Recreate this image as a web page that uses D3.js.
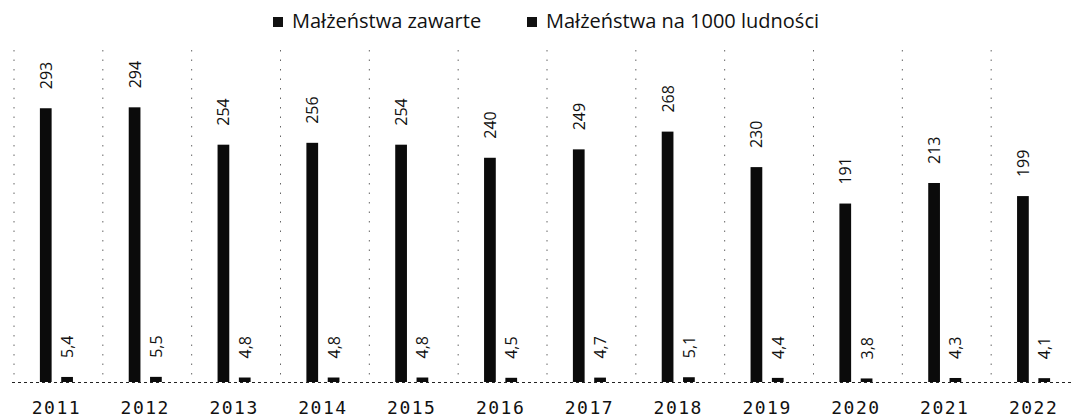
<!DOCTYPE html>
<html>
<head>
<meta charset="utf-8">
<script src="https://cdn.jsdelivr.net/npm/d3@7"></script>
<style>
  html, body { margin: 0; padding: 0; background: #fff; }
  svg { display: block; }
</style>
</head>
<body>
<svg id="chart" width="1076" height="420"></svg>
<script>
// values
const years = ["2011","2012","2013","2014","2015","2016","2017","2018","2019","2020","2021","2022"];
const zawarte = [293, 294, 254, 256, 254, 240, 249, 268, 230, 191, 213, 199];
const na1000 = [5.4, 5.5, 4.8, 4.8, 4.8, 4.5, 4.7, 5.1, 4.4, 3.8, 4.3, 4.1];
const seriesNames = ["Małżeństwa zawarte", "Małżeństwa na 1000 ludności"];

const svg = d3.select("#chart");
const fmt = v => String(v).replace(".", ",");

// plot box
const box = {left: 12, right: 1078, top: 55, bottom: 382};

const x0 = d3.scaleBand().domain(years).range([box.left, box.right])
  .paddingInner(0.628).paddingOuter(0.314);
const x1 = d3.scaleBand().domain([0, 1]).range([0, x0.bandwidth()]).paddingInner(0.45);
const grid = d3.scaleBand().domain(years).range([box.left, box.right]);
const y = d3.scaleLinear().domain([0, 350]).range([box.bottom, box.top]);

const rows = years.map((yr, i) => ({year: yr, vals: [zawarte[i], na1000[i]]}));

// vertical dotted separators between categories
svg.append("g").attr("class", "grid")
  .selectAll("line").data(years).join("line")
  .attr("x1", d => grid(d) + 2).attr("x2", d => grid(d) + 2)
  .attr("y1", box.top - 5).attr("y2", box.bottom)
  .attr("stroke", "#666").attr("stroke-width", 1)
  .attr("stroke-dasharray", "1.5,8");

// baseline
svg.append("line")
  .attr("x1", box.left).attr("x2", 1072)
  .attr("y1", box.bottom + 0.5).attr("y2", box.bottom + 0.5)
  .attr("stroke", "#222").attr("stroke-width", 1.2)
  .attr("stroke-dasharray", "3,3");

// bars
const groups = svg.append("g").attr("class", "data")
  .selectAll("g").data(rows).join("g")
  .attr("transform", d => `translate(${x0(d.year)},0)`);

groups.selectAll("rect")
  .data(d => d.vals.map((v, k) => ({k, v})))
  .join("rect")
  .attr("x", d => x1(d.k))
  .attr("width", x1.bandwidth())
  .attr("y", d => y(d.v))
  .attr("height", d => y(0) - y(d.v))
  .attr("fill", "#0b0b0b");

// rotated value labels
groups.selectAll("text")
  .data(d => d.vals.map((v, k) => ({k, v})))
  .join("text")
  .attr("transform", d => `translate(${x1(d.k) + x1.bandwidth() / 2 + 6},${y(d.v) - 19}) rotate(-90)`)
  .attr("font-family", "'Open Sans', sans-serif")
  .attr("font-size", 16)
  .attr("fill", "#111")
  .text(d => fmt(d.v));

// x axis labels
const xAxis = d3.axisBottom(x0).tickSize(0).tickPadding(0);
svg.append("g")
  .attr("transform", `translate(0,${box.bottom + 19})`)
  .call(xAxis)
  .call(g => g.select(".domain").remove())
  .selectAll("text")
  .attr("font-family", "'DejaVu Sans Mono', monospace")
  .attr("font-size", 18)
  .attr("letter-spacing", 1.5)
  .attr("fill", "#111");

// legend
const legendX = [273, 527];
const legend = svg.append("g").attr("class", "legend")
  .selectAll("g").data(seriesNames).join("g")
  .attr("transform", (d, i) => `translate(${legendX[i]},17)`);
legend.append("rect").attr("width", 10).attr("height", 10).attr("fill", "#111");
legend.append("text")
  .attr("x", 19).attr("y", 11)
  .attr("font-family", "'Open Sans', sans-serif")
  .attr("font-size", 20)
  .attr("fill", "#111")
  .text(d => d);
</script>
</body>
</html>
